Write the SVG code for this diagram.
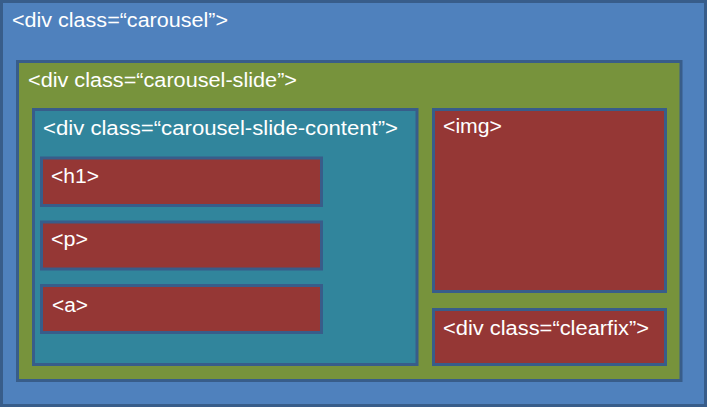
<svg xmlns="http://www.w3.org/2000/svg" width="707" height="407" viewBox="0 0 707 407">
<style>
rect{stroke:#385D8A;stroke-width:3}
.outer{fill:#4F81BD}
.slide{fill:#77933C}
.content{fill:#31859C}
.el{fill:#953735}
text{fill:#FFFFFF;font-family:"Liberation Sans","DejaVu Sans",sans-serif;font-size:20px}
</style>
<rect width="707" height="407" fill="#ffffff" stroke="none"/>
<g id="carousel">
<rect class="outer" x="1.5" y="1.5" width="704" height="404"/>
<text x="12" y="27" textLength="216" lengthAdjust="spacingAndGlyphs">&lt;div class=“carousel”&gt;</text>
</g>
<g id="carousel-slide">
<rect class="slide" x="17.5" y="61.5" width="663.5" height="319"/>
<text x="28" y="87" textLength="269" lengthAdjust="spacingAndGlyphs">&lt;div class=“carousel-slide”&gt;</text>
</g>
<g id="carousel-slide-content">
<rect class="content" x="33.5" y="109.5" width="383.5" height="255"/>
<text x="43" y="135" textLength="355" lengthAdjust="spacingAndGlyphs">&lt;div class=“carousel-slide-content”&gt;</text>
</g>
<g id="h1">
<rect class="el" x="41.5" y="158" width="280" height="47.5"/>
<text x="51" y="183" textLength="48" lengthAdjust="spacingAndGlyphs">&lt;h1&gt;</text>
</g>
<g id="p">
<rect class="el" x="41.5" y="222" width="280" height="47"/>
<text x="51" y="246" textLength="37" lengthAdjust="spacingAndGlyphs">&lt;p&gt;</text>
</g>
<g id="a">
<rect class="el" x="41.5" y="285.5" width="280" height="47"/>
<text x="52" y="312" textLength="36" lengthAdjust="spacingAndGlyphs">&lt;a&gt;</text>
</g>
<g id="img">
<rect class="el" x="433.5" y="109.5" width="232" height="182"/>
<text x="443" y="133" textLength="59" lengthAdjust="spacingAndGlyphs">&lt;img&gt;</text>
</g>
<g id="clearfix">
<rect class="el" x="433.5" y="309.5" width="232" height="55"/>
<text x="443" y="335" textLength="206" lengthAdjust="spacingAndGlyphs">&lt;div class=“clearfix”&gt;</text>
</g>
<g id="connectors"/>
</svg>
